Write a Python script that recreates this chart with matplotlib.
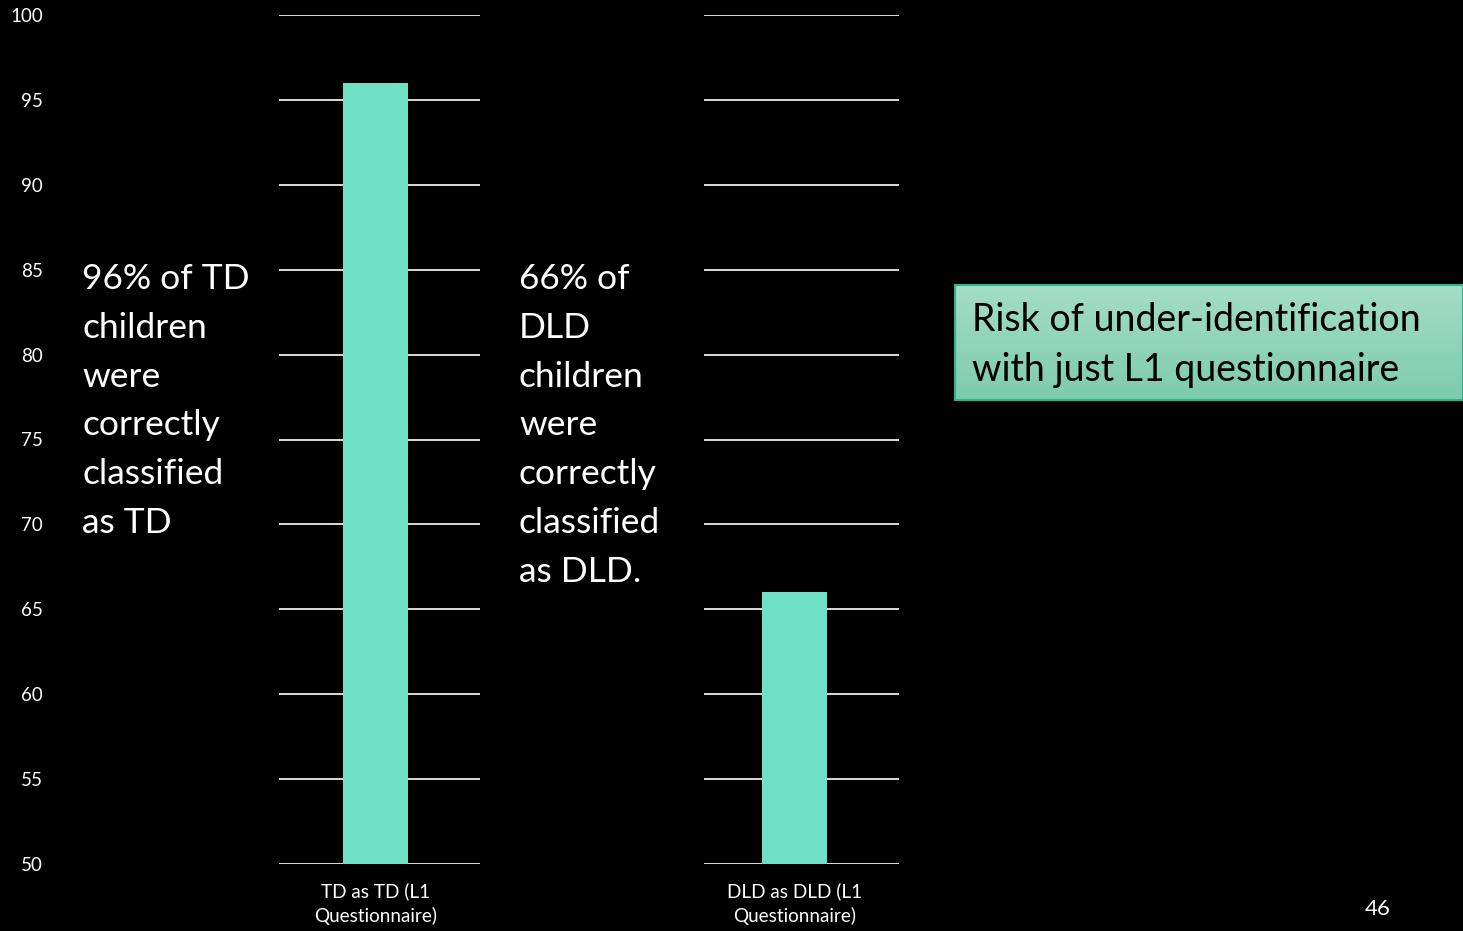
import numpy as np
import matplotlib.pyplot as plt

categories = ["TD as TD (L1\nQuestionnaire)", "DLD as DLD (L1\nQuestionnaire)"]
values = [96, 66]
yticks = list(range(50, 101, 5))
notes = [
    "96% of TD\nchildren\nwere\ncorrectly\nclassified\nas TD",
    "66% of\nDLD\nchildren\nwere\ncorrectly\nclassified\nas DLD.",
]
box_text = "Risk of under-identification\nwith just L1 questionnaire"
slide_no = "46"

plt.rcParams["font.family"] = ["Lato", "DejaVu Sans"]
bar_color = "#6fdfc5"
W, H = 1463, 931

fig = plt.figure(figsize=(W / 100, H / 100), dpi=100, facecolor="black")

# two chart panels, each with its own bar: (left px, width px, bar offset, bar width)
panels = [(279, 201, -0.02, 0.323), (704, 195, -0.036, 0.333)]
for i, (left, width, off, bw) in enumerate(panels):
    ax = fig.add_axes([left / W, 1 - 864 / H, width / W, (864 - 15) / H])
    ax.set_facecolor("black")
    ax.bar([0], [values[i]], width=bw, color=bar_color, zorder=3)
    ax.set_xlim(-0.5 - off, 0.5 - off)
    ax.set_ylim(50, 100)
    ax.set_yticks(yticks)
    ax.yaxis.grid(True, color="white", linewidth=1.2, zorder=0)
    ax.set_axisbelow(True)
    ax.set_xticks([0])
    ax.set_xticklabels([categories[i]], color="white", fontsize=13.6, linespacing=1.45)
    ax.tick_params(axis="x", length=0, pad=13)
    for s in ax.spines.values():
        s.set_visible(False)
    if i == 0:
        ax.tick_params(axis="y", length=0, pad=170, labelcolor="white", labelsize=13.5)
    else:
        ax.tick_params(axis="y", length=0, labelleft=False)

fig.text(82 / W, 1 - 263 / H, notes[0], color="white", fontsize=25.5, va="top", ha="left", linespacing=1.645)
fig.text(519 / W, 1 - 263 / H, notes[1], color="white", fontsize=25.5, va="top", ha="left", linespacing=1.645)

# green callout box with a soft vertical gradient
box = fig.add_axes([955 / W, 1 - 400 / H, (W - 955) / W, 115 / H])
grad = np.linspace(0, 1, 100).reshape(-1, 1)
top = np.array([0xa4, 0xdd, 0xc7]) / 255
bot = np.array([0x7e, 0xcb, 0xae]) / 255
img = top + (bot - top) * grad[:, :, None]
box.imshow(img, aspect="auto", extent=[0, 1, 0, 1])
box.set_xticks([])
box.set_yticks([])
for s in box.spines.values():
    s.set_color("#2fb38a")
    s.set_linewidth(1.5)
box.text(17 / (W - 955), 0.48, box_text, color="black", fontsize=27, va="center", ha="left",
         linespacing=1.5, transform=box.transAxes)

fig.text(1378 / W, 1 - 909 / H, slide_no, color="white", fontsize=16, ha="center", va="center")

fig.savefig("out.png", dpi=100, facecolor="black")
